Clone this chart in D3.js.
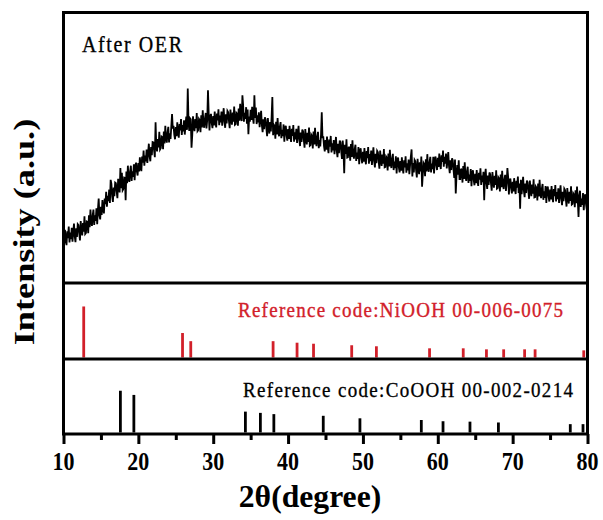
<!DOCTYPE html>
<html>
<head>
<meta charset="utf-8">
<script src="https://cdn.jsdelivr.net/npm/d3@7"></script>
<style>
  body { margin: 0; background: #fff; }
  svg { display: block; }
  text { font-family: "Liberation Serif", "Times New Roman", serif; }
</style>
</head>
<body>
<svg id="chart" width="603" height="520"></svg>
<script>
// XRD scan after OER: intensity (counts) sampled every 0.1° from 10° to 80° 2θ
const thetaStart = 10;
const thetaStep = 0.1;
const intensity = [
  343,316,357,328,312,353,333,367,320,349,
  330,363,322,350,376,338,321,362,336,374,
  371,347,326,383,356,341,377,352,397,345,
  348,382,381,347,400,365,417,380,369,400,
  417,372,400,384,421,374,418,450,400,388,
  425,401,445,419,406,450,433,470,426,458,
  442,476,437,505,493,456,440,482,457,497,
  495,471,451,508,482,468,540,480,526,474,
  478,512,511,445,530,495,547,510,499,530,
  547,502,530,514,551,504,548,556,530,518,
  555,530,572,545,531,574,556,592,547,577,
  560,595,555,585,612,575,560,602,578,617,
  616,592,572,675,603,589,626,601,647,595,
  599,633,631,596,648,613,665,627,615,645,
  662,616,643,626,663,700,657,665,638,625,
  661,634,675,646,630,670,651,685,638,667,
  648,681,639,667,692,653,775,676,650,687,
  684,600,637,693,665,649,685,658,703,649,
  652,685,681,646,696,660,711,671,659,687,
  703,657,682,770,700,651,694,700,673,658,
  694,666,707,677,660,701,681,714,667,695,
  675,707,665,692,717,677,659,699,672,709,
  705,679,658,713,685,668,704,677,722,668,
  670,703,700,665,716,680,730,691,679,755,
  724,677,703,685,720,671,713,640,692,677,
  712,682,721,689,671,755,688,719,670,696,
  675,705,661,686,709,667,646,684,655,690,
  684,657,634,688,659,642,676,648,691,750,
  637,668,664,627,677,639,688,648,634,662,
  676,628,653,634,669,618,659,665,636,621,
  655,626,665,635,617,656,635,667,618,646,
  625,656,614,640,665,624,605,645,617,654,
  649,623,600,655,627,610,644,617,660,606,
  608,639,635,598,648,610,659,619,605,633,
  647,599,623,604,638,705,629,634,605,589,
  623,594,633,602,584,624,603,635,586,613,
  592,623,581,607,632,591,572,612,584,621,
  616,589,567,621,593,525,609,582,625,571,
  572,603,598,562,611,573,622,581,568,595,
  609,561,586,567,602,551,592,598,569,554,
  588,559,599,568,551,590,569,602,553,581,
  560,592,549,576,601,560,542,582,554,591,
  587,560,538,592,564,546,580,553,596,542,
  543,574,570,533,583,545,594,554,540,568,
  582,534,559,540,575,524,565,571,542,527,
  561,532,572,541,524,563,542,575,526,554,
  533,565,522,549,574,595,515,555,527,564,
  560,534,512,567,539,522,557,530,574,485,
  522,555,551,516,566,530,581,541,529,557,
  573,527,553,537,573,524,567,574,548,534,
  570,543,583,554,537,578,558,592,544,573,
  553,583,539,564,587,545,525,563,534,569,
  563,535,511,565,465,516,549,520,563,507,
  507,538,533,497,546,508,557,516,502,530,
  544,496,521,502,537,486,527,533,504,489,
  523,495,534,504,487,526,506,539,490,518,
  498,529,445,513,538,497,478,518,490,527,
  522,496,473,528,500,482,517,490,533,479,
  481,512,508,471,521,483,532,492,478,506,
  520,472,497,540,513,462,503,509,480,465,
  499,471,510,480,463,502,482,515,466,494,
  420,505,463,489,514,473,454,494,466,503,
  498,471,449,503,475,457,491,464,507,453,
  454,485,481,444,494,456,505,465,451,479,
  493,446,471,452,487,437,479,485,456,441,
  476,447,487,456,439,478,457,490,441,469,
  448,480,437,464,489,448,430,470,442,479,
  475,449,426,481,453,435,470,443,486,432,
  434,465,461,424,474,436,485,445,395,459,
  473,425,450,431,466,415,456,462,433,418,
  440
];

// Standard patterns: peak positions (2θ) and relative intensities
const niPositions = [12.7, 25.9, 27.0, 38.0, 41.2, 43.4, 48.5, 51.8, 58.9, 63.4, 66.5, 68.8, 71.6, 73.0, 79.5];
const niIntensities = [100, 48, 32, 32, 29, 27, 24, 22, 18, 18, 16, 16, 16, 16, 14];
const coPositions = [17.6, 19.4, 34.3, 36.3, 38.1, 44.7, 49.6, 57.8, 60.7, 64.3, 68.1, 77.7, 79.4];
const coIntensities = [100, 90, 50, 47, 44, 40, 34, 30, 27, 26, 24, 20, 20];

const xTicks = [10, 20, 30, 40, 50, 60, 70, 80];
const xMinorTicks = [15, 25, 35, 45, 55, 65, 75];

const niLabel = "Reference code:NiOOH 00-006-0075";
const coLabel = "Reference code:CoOOH 00-002-0214";
const sampleLabel = "After OER";
const xTitle = "2θ(degree)";
const yTitle = "Intensity (a.u.)";

// ---- layout ----
const plotLeft = 63.5, plotRight = 587.5, plotTop = 12.5, plotBottom = 434;
const split1 = 283, split2 = 359;
const stretch = 1.12; // glyphs are drawn slightly taller than wide

const svg = d3.select("#chart");

const x = d3.scaleLinear().domain([10, 80]).range([plotLeft, plotRight]);
const yScan = d3.scaleLinear().domain([200, 1000]).range([split1, plotTop]);
const yNi = d3.scaleLinear().domain([0, 146]).range([split2 - 1.5, split1]);
const yCo = d3.scaleLinear().domain([0, 176]).range([plotBottom - 1.5, split2]);

// clip for the scan trace
svg.append("clipPath").attr("id", "scanClip")
  .append("rect").attr("x", plotLeft).attr("y", plotTop)
  .attr("width", plotRight - plotLeft).attr("height", split1 - plotTop);

const scan = intensity.map((v, i) => [thetaStart + i * thetaStep, v]);
const line = d3.line().x(d => x(d[0])).y(d => yScan(d[1]));
svg.append("path")
  .datum(scan)
  .attr("clip-path", "url(#scanClip)")
  .attr("fill", "none")
  .attr("stroke", "#000")
  .attr("stroke-width", 1.8)
  .attr("d", line);

// NiOOH reference sticks
svg.append("g").selectAll("line")
  .data(niPositions.map((p, i) => ({ p, v: niIntensities[i] })))
  .join("line")
  .attr("x1", d => x(d.p)).attr("x2", d => x(d.p))
  .attr("y1", yNi(0)).attr("y2", d => yNi(d.v))
  .attr("stroke", "#d2202a").attr("stroke-width", 2.8);

// CoOOH reference sticks
svg.append("g").selectAll("line")
  .data(coPositions.map((p, i) => ({ p, v: coIntensities[i] })))
  .join("line")
  .attr("x1", d => x(d.p)).attr("x2", d => x(d.p))
  .attr("y1", yCo(0)).attr("y2", d => yCo(d.v))
  .attr("stroke", "#000").attr("stroke-width", 2.8);

// frame and panel dividers
svg.append("rect")
  .attr("x", plotLeft).attr("y", plotTop)
  .attr("width", plotRight - plotLeft).attr("height", plotBottom - plotTop)
  .attr("fill", "none").attr("stroke", "#000").attr("stroke-width", 3);
[split1, split2].forEach(yy => {
  svg.append("line").attr("x1", plotLeft).attr("x2", plotRight).attr("y1", yy).attr("y2", yy)
    .attr("stroke", "#000").attr("stroke-width", 3);
});

// bottom axis ticks
const majorAxis = svg.append("g").attr("transform", `translate(0,${plotBottom})`)
  .call(d3.axisBottom(x).tickValues(xTicks).tickSize(10).tickFormat(""));
const minorAxis = svg.append("g").attr("transform", `translate(0,${plotBottom})`)
  .call(d3.axisBottom(x).tickValues(xMinorTicks).tickSize(6).tickFormat(""));
[majorAxis, minorAxis].forEach(g => {
  g.select(".domain").remove();
  g.selectAll(".tick line").attr("stroke", "#000").attr("stroke-width", 3);
});

// tick labels
svg.append("g").selectAll("text")
  .data(xTicks)
  .join("text")
  .attr("transform", d => `translate(${x(d)},470) scale(1,${stretch})`)
  .attr("text-anchor", "middle")
  .attr("font-size", 22).attr("font-weight", "bold")
  .text(d => d);

// axis titles
svg.append("text")
  .attr("transform", `translate(310,507) scale(1.13,${stretch})`)
  .attr("text-anchor", "middle")
  .attr("font-size", 28).attr("font-weight", "bold")
  .text(xTitle);

svg.append("text")
  .attr("transform", `translate(34,232) rotate(-90) scale(1.25,1)`)
  .attr("text-anchor", "middle")
  .attr("font-size", 29).attr("font-weight", "bold")
  .text(yTitle);

// panel labels
svg.append("text")
  .attr("transform", `translate(82,52) scale(1,${stretch})`)
  .attr("font-size", 20)
  .attr("stroke", "#000").attr("stroke-width", 0.3)
  .attr("textLength", 100).attr("lengthAdjust", "spacing")
  .text(sampleLabel);

svg.append("text")
  .attr("transform", `translate(238,317) scale(1,${stretch})`)
  .attr("font-size", 19)
  .attr("fill", "#d2202a").attr("stroke", "#d2202a").attr("stroke-width", 0.35)
  .attr("textLength", 325).attr("lengthAdjust", "spacing")
  .text(niLabel);

svg.append("text")
  .attr("transform", `translate(243,397) scale(1,${stretch})`)
  .attr("font-size", 19)
  .attr("fill", "#000").attr("stroke", "#000").attr("stroke-width", 0.3)
  .attr("textLength", 330).attr("lengthAdjust", "spacing")
  .text(coLabel);
</script>
</body>
</html>
